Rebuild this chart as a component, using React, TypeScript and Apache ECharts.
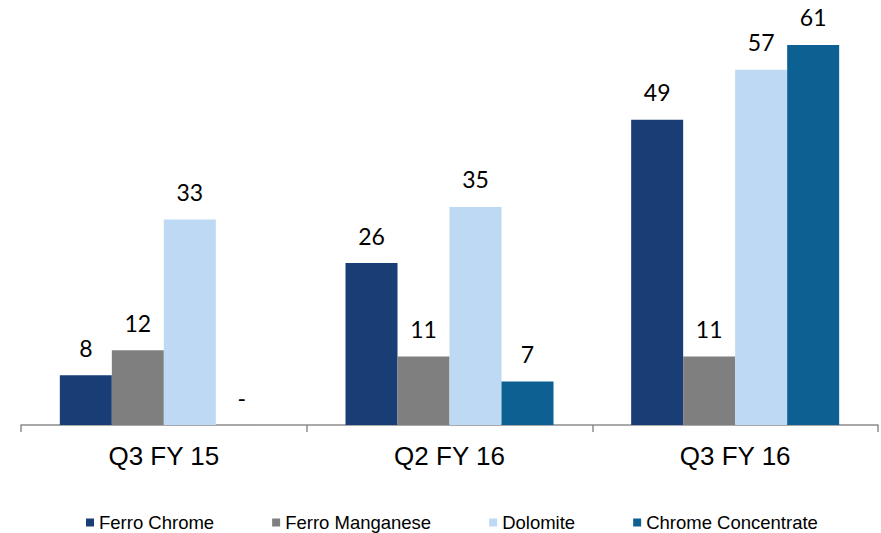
import React, { useEffect, useRef } from "react";
import * as echarts from "echarts";

const categories = ["Q3 FY 15", "Q2 FY 16", "Q3 FY 16"];
const seriesNames = ["Ferro Chrome", "Ferro Manganese", "Dolomite", "Chrome Concentrate"];
const ferroChrome = [8, 26, 49];
const ferroManganese = [12, 11, 11];
const dolomite = [33, 35, 57];
const chromeConcentrate = [0, 7, 61];
const colors = ["#193d75", "#7f7f7f", "#bdd9f4", "#0d6192"];

export default function App() {
  const ref = useRef<HTMLDivElement>(null);
  useEffect(() => {
    if (!ref.current) return;
    const chart = echarts.init(ref.current, undefined, { renderer: "svg" });
    const data = [ferroChrome, ferroManganese, dolomite, chromeConcentrate];
    chart.setOption({
      animation: false,
      grid: { left: 21, right: 3, top: 20, bottom: 108 },
      legend: {
        top: 508,
        left: 81,
        icon: "rect",
        itemWidth: 8,
        itemHeight: 8,
        itemGap: 58,
        textStyle: { fontFamily: "Liberation Sans, Arial", fontSize: 18.5, color: "#000" },
        data: seriesNames,
      },
      xAxis: {
        type: "category",
        data: categories,
        axisLine: { lineStyle: { color: "#8c8c8c", width: 1.5 } },
        axisTick: { show: true, length: 7, lineStyle: { color: "#8c8c8c", width: 1.5 } },
        axisLabel: { fontFamily: "Liberation Sans, Arial", fontSize: 26, color: "#000", margin: 18 },
      },
      yAxis: {
        type: "value",
        min: 0,
        max: 65,
        show: false,
        splitLine: { show: false },
      },
      series: seriesNames.map((name, i) => ({
        name,
        type: "bar",
        data: data[i],
        barWidth: 52,
        barGap: "0%",
        itemStyle: { color: colors[i] },
        label: {
          show: true,
          position: "top",
          distance: 16,
          fontFamily: "Lato, Carlito, sans-serif",
          fontSize: 23,
          color: "#000",
          formatter: (p: any) => (p.value === 0 ? "-" : String(p.value)),
        },
      })),
    });
    return () => chart.dispose();
  }, []);
  return (
    <div
      ref={ref}
      style={{ position: "absolute", left: 0, top: 0, width: 881, height: 533 }}
    />
  );
}
